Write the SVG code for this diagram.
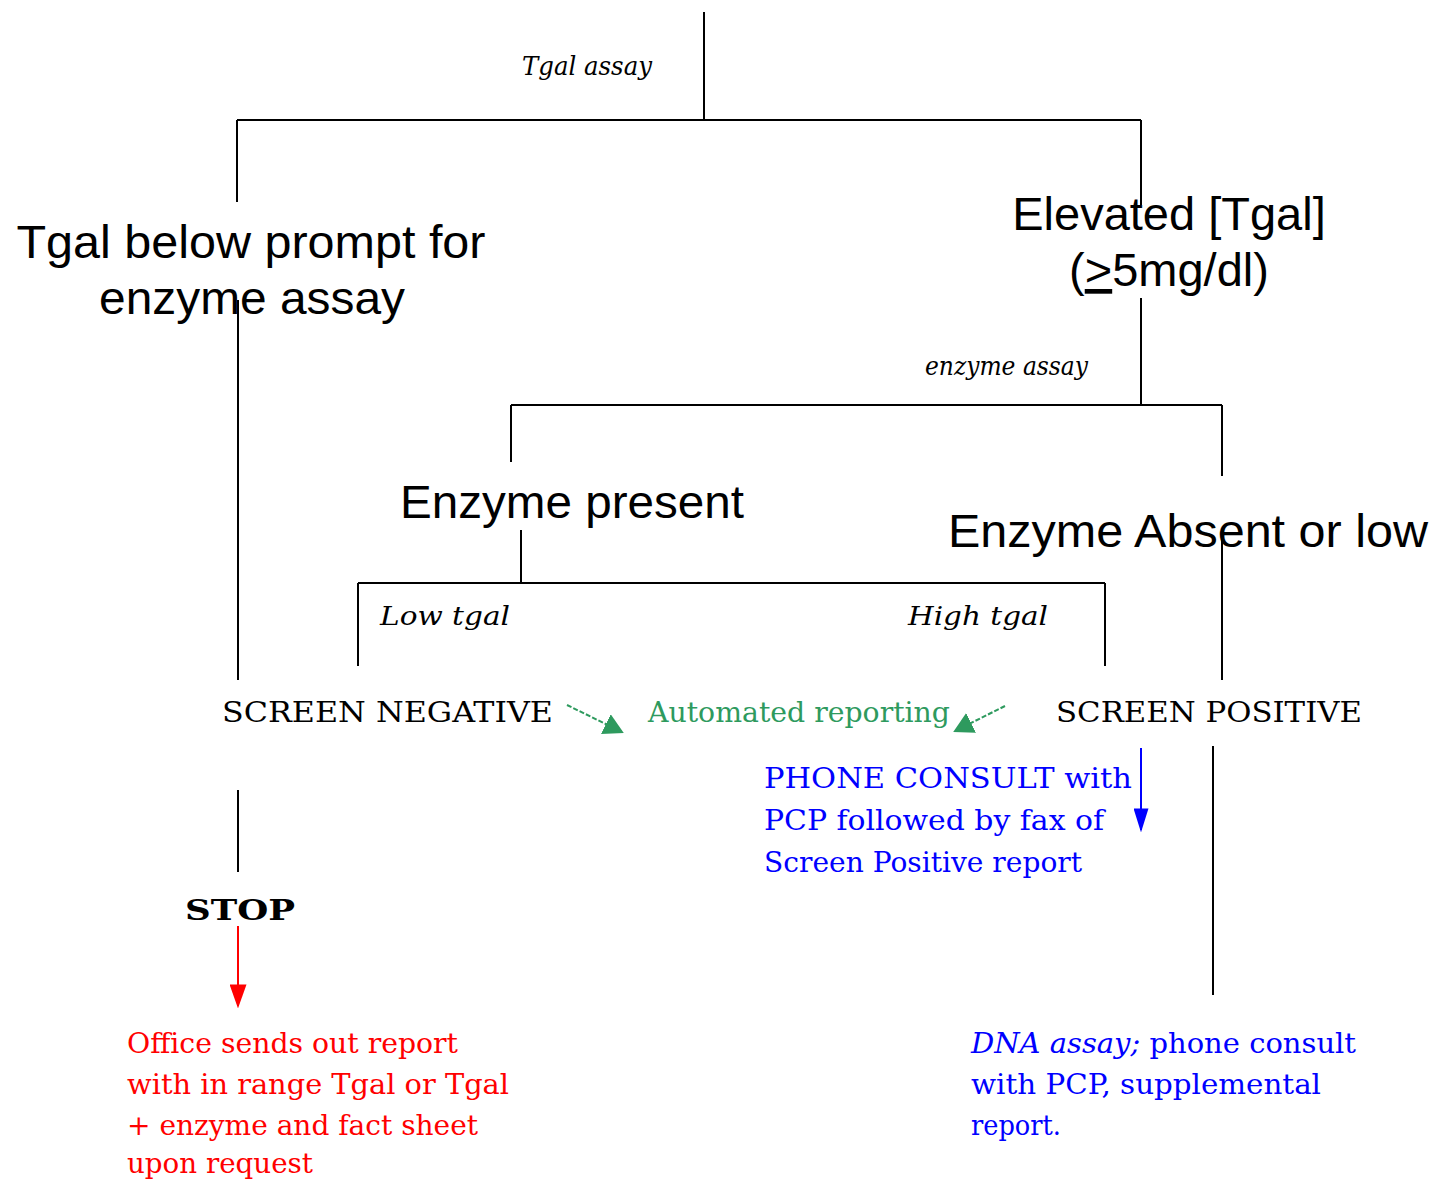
<svg xmlns="http://www.w3.org/2000/svg" width="1436" height="1180" viewBox="0 0 1436 1180">
<style>
.ln{stroke:#000;stroke-width:2;fill:none}
.sans{font-family:"Liberation Sans",Arial,sans-serif;font-size:47px;fill:#000}
.ser{font-family:"DejaVu Serif","Liberation Serif",serif;font-size:28px}
.it{font-family:"DejaVu Serif","Liberation Serif",serif;font-style:italic;font-size:26px;fill:#000}
.blk{fill:#000}.grn{fill:#2e9a5e}.blu{fill:#0000ff}.red{fill:#ff0000}
</style>
<defs>
<marker id="ag" viewBox="0 0 10 10" refX="9" refY="5" markerWidth="20" markerHeight="22" markerUnits="userSpaceOnUse" orient="auto" preserveAspectRatio="none"><path d="M0,0L10,5L0,10z" fill="#2e9a5e"/></marker>
<marker id="ab" viewBox="0 0 10 10" refX="9" refY="5" markerWidth="24" markerHeight="15" markerUnits="userSpaceOnUse" orient="auto" preserveAspectRatio="none"><path d="M0,0L10,5L0,10z" fill="#0000ff"/></marker>
<marker id="ar" viewBox="0 0 10 10" refX="9" refY="5" markerWidth="24" markerHeight="17" markerUnits="userSpaceOnUse" orient="auto" preserveAspectRatio="none"><path d="M0,0L10,5L0,10z" fill="#ff0000"/></marker>
</defs>
<rect width="1436" height="1180" fill="#fff"/>
<g id="connectors">
<path class="ln" d="M704,12V120M237,120H1141M237,120V202M1141,120V205"/>
<path class="ln" d="M238,300V680"/>
<path class="ln" d="M1141,298V405M511,405H1222M511,405V462M1222,405V476"/>
<path class="ln" d="M521,530V583M358,583H1105M358,583V666M1105,583V666"/>
<path class="ln" d="M1222,533V680"/>
<path class="ln" d="M238,790V872"/>
<path class="ln" d="M1213,746V995"/>
<path d="M567,705L622,732" stroke="#2e9a5e" stroke-width="2" stroke-dasharray="5,2" marker-end="url(#ag)"/>
<path d="M1005,706L955,731" stroke="#2e9a5e" stroke-width="2" stroke-dasharray="5,2" marker-end="url(#ag)"/>
<path d="M1141,748V830" stroke="#0000ff" stroke-width="2" marker-end="url(#ab)"/>
<path d="M238,926V1006" stroke="#ff0000" stroke-width="2" marker-end="url(#ar)"/>
</g>
<g id="label-tgal-assay"><text class="it" x="522" y="75" textLength="130" lengthAdjust="spacingAndGlyphs">Tgal assay</text></g>
<g id="node-tgal-below"><text class="sans" text-anchor="middle"><tspan x="251" y="258" textLength="469" lengthAdjust="spacingAndGlyphs">Tgal below prompt for</tspan><tspan x="252" y="314" textLength="306" lengthAdjust="spacingAndGlyphs">enzyme assay</tspan></text></g>
<g id="node-elevated"><text class="sans" text-anchor="middle"><tspan x="1169" y="230">Elevated [Tgal]</tspan><tspan x="1169" y="286">(<tspan text-decoration="underline">&gt;</tspan>5mg/dl)</tspan></text></g>
<g id="label-enzyme-assay"><text class="it" x="925" y="375" textLength="163" lengthAdjust="spacingAndGlyphs">enzyme assay</text></g>
<g id="node-enzyme-present"><text class="sans" x="400" y="518" textLength="344" lengthAdjust="spacingAndGlyphs">Enzyme present</text></g>
<g id="node-enzyme-absent"><text class="sans" x="948" y="547" textLength="480" lengthAdjust="spacingAndGlyphs">Enzyme Absent or low</text></g>
<g id="label-low-tgal"><text class="it" x="380" y="625" textLength="130" lengthAdjust="spacingAndGlyphs">Low tgal</text></g>
<g id="label-high-tgal"><text class="it" x="908" y="625" textLength="140" lengthAdjust="spacingAndGlyphs">High tgal</text></g>
<g id="node-screen-negative"><text class="ser blk" x="222" y="722" textLength="331" lengthAdjust="spacingAndGlyphs">SCREEN NEGATIVE</text></g>
<g id="node-automated"><text class="ser grn" x="648" y="722" textLength="302" lengthAdjust="spacingAndGlyphs">Automated reporting</text></g>
<g id="node-screen-positive"><text class="ser blk" x="1056" y="722" textLength="306" lengthAdjust="spacingAndGlyphs">SCREEN POSITIVE</text></g>
<g id="node-phone-consult"><text class="ser blu"><tspan x="764" y="788" textLength="368" lengthAdjust="spacingAndGlyphs">PHONE CONSULT with</tspan><tspan x="764" y="830" textLength="340" lengthAdjust="spacingAndGlyphs">PCP followed by fax of</tspan><tspan x="764" y="872" textLength="318" lengthAdjust="spacingAndGlyphs">Screen Positive report</tspan></text></g>
<g id="node-stop"><text class="ser blk" x="185" y="920" font-weight="bold" font-size="34" textLength="110" lengthAdjust="spacingAndGlyphs">STOP</text></g>
<g id="node-office"><text class="ser red"><tspan x="127" y="1053" textLength="331" lengthAdjust="spacingAndGlyphs">Office sends out report</tspan><tspan x="127" y="1094" textLength="382" lengthAdjust="spacingAndGlyphs">with in range Tgal or Tgal</tspan><tspan x="127" y="1135" textLength="351" lengthAdjust="spacingAndGlyphs">+ enzyme and fact sheet</tspan><tspan x="127" y="1173" textLength="186" lengthAdjust="spacingAndGlyphs">upon request</tspan></text></g>
<g id="node-dna"><text class="ser blu"><tspan x="971" y="1053" textLength="385" lengthAdjust="spacingAndGlyphs"><tspan font-style="italic">DNA assay;</tspan> phone consult</tspan><tspan x="971" y="1094" textLength="350" lengthAdjust="spacingAndGlyphs">with PCP, supplemental</tspan><tspan x="971" y="1135" textLength="90" lengthAdjust="spacingAndGlyphs">report.</tspan></text></g>
</svg>
